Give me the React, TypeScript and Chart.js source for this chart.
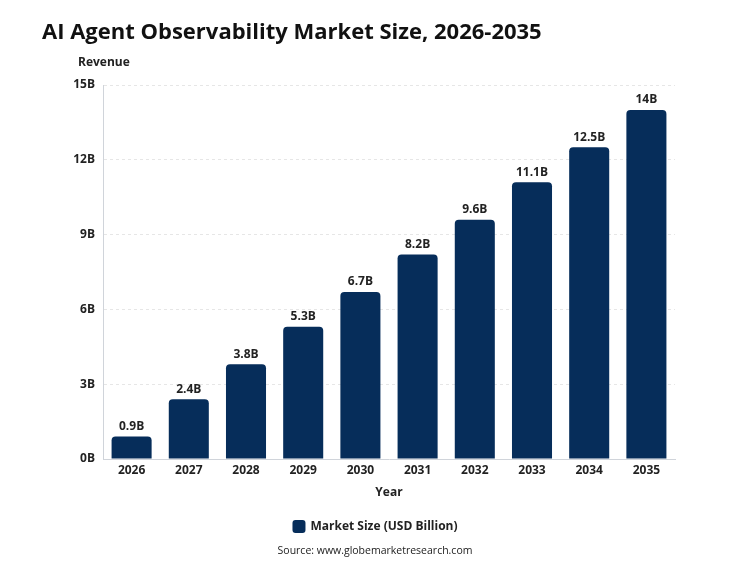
import React, { useEffect, useRef } from "react";
import { Chart, registerables } from "chart.js";

Chart.register(...registerables);

const years = ["2026", "2027", "2028", "2029", "2030", "2031", "2032", "2033", "2034", "2035"];
const marketSize = [0.9, 2.4, 3.8, 5.3, 6.7, 8.2, 9.6, 11.1, 12.5, 14];
const valueLabels = ["0.9B", "2.4B", "3.8B", "5.3B", "6.7B", "8.2B", "9.6B", "11.1B", "12.5B", "14B"];
const yTicks = [0, 3, 6, 9, 12, 15];
const seriesName = "Market Size (USD Billion)";

const FONT = "'Open Sans', 'Noto Sans', sans-serif";
const BAR = "#062d5a";

function roundRect(ctx: any, x: number, y: number, w: number, h: number, r: number) {
  ctx.beginPath();
  ctx.moveTo(x + r, y);
  ctx.lineTo(x + w - r, y);
  ctx.quadraticCurveTo(x + w, y, x + w, y + r);
  ctx.lineTo(x + w, y + h - r);
  ctx.quadraticCurveTo(x + w, y + h, x + w - r, y + h);
  ctx.lineTo(x + r, y + h);
  ctx.quadraticCurveTo(x, y + h, x, y + h - r);
  ctx.lineTo(x, y + r);
  ctx.quadraticCurveTo(x, y, x + r, y);
  ctx.closePath();
}

const textPlugin = {
  id: "textPlugin",
  afterDatasetsDraw(chart: any) {
    const ctx = chart.ctx;
    const meta = chart.getDatasetMeta(0);
    ctx.save();
    ctx.fillStyle = "#222";
    ctx.font = `bold 12px ${FONT}`;
    ctx.textAlign = "center";
    ctx.textBaseline = "bottom";
    meta.data.forEach((bar: any, i: number) => {
      ctx.fillText(valueLabels[i], bar.x, bar.y - 4);
    });
    ctx.restore();
  },
  afterDraw(chart: any) {
    const ctx = chart.ctx;
    ctx.save();
    ctx.fillStyle = "#111";
    ctx.textAlign = "left";
    ctx.textBaseline = "middle";
    ctx.font = `bold 22px ${FONT}`;
    ctx.fillText("AI Agent Observability Market Size, 2026-2035", 42, 33);
    ctx.font = `bold 12px ${FONT}`;
    ctx.fillStyle = "#222";
    ctx.fillText("Revenue", 78, 63);

    // legend
    ctx.font = `bold 12px ${FONT}`;
    const tw = ctx.measureText(seriesName).width;
    const total = 13 + 5 + tw;
    const lx = 375 - total / 2;
    ctx.fillStyle = BAR;
    roundRect(ctx, lx, 520, 13, 13, 3);
    ctx.fill();
    ctx.fillStyle = "#222";
    ctx.fillText(seriesName, lx + 18, 527);

    ctx.font = `10.5px ${FONT}`;
    ctx.textAlign = "center";
    ctx.fillText("Source: www.globemarketresearch.com", 375, 551);
    ctx.restore();
  },
};

export default function App() {
  const ref = useRef<HTMLCanvasElement | null>(null);
  useEffect(() => {
    document.body.style.margin = "0";
    const chart = new Chart(ref.current as HTMLCanvasElement, {
      type: "bar",
      data: {
        labels: years,
        datasets: [
          {
            label: seriesName,
            data: marketSize,
            backgroundColor: BAR,
            borderRadius: { topLeft: 4, topRight: 4, bottomLeft: 0, bottomRight: 0 },
            borderSkipped: false,
            categoryPercentage: 0.8,
            barPercentage: 0.875,
          },
        ],
      },
      options: {
        animation: false,
        responsive: false,
        devicePixelRatio: 1,
        layout: { padding: { left: 40, right: 75, top: 85, bottom: 59 } },
        plugins: {
          legend: { display: false },
          title: { display: false },
          tooltip: { enabled: false },
        },
        scales: {
          x: {
            grid: { display: false, drawTicks: false, tickLength: 0 },
            border: { color: "#d0d4da" },
            ticks: { font: { family: FONT, size: 12, weight: "bold" }, color: "#222", padding: 4 },
            title: {
              display: true,
              text: "Year",
              font: { family: FONT, size: 12, weight: "bold" },
              color: "#222",
              padding: { top: 7 },
            },
            afterFit(scale: any) {
              scale.height = 45;
            },
          },
          y: {
            min: 0,
            max: 15,
            afterBuildTicks(scale: any) {
              scale.ticks = yTicks.map((v) => ({ value: v }));
            },
            grid: { color: "#e6e6e6", tickLength: 0, drawTicks: false },
            border: { color: "#d0d4da", dash: [3, 3] },
            ticks: {
              font: { family: FONT, size: 12, weight: "bold" },
              color: "#222",
              padding: 8,
              callback: (v: any) => `${v}B`,
            },
            afterFit(scale: any) {
              scale.width = 63;
            },
          },
        },
      } as any,
      plugins: [textPlugin],
    });
    return () => chart.destroy();
  }, []);
  return (
    <div style={{ width: 750, height: 563 }}>
      <canvas ref={ref} width={750} height={563} style={{ display: "block" }} />
    </div>
  );
}
